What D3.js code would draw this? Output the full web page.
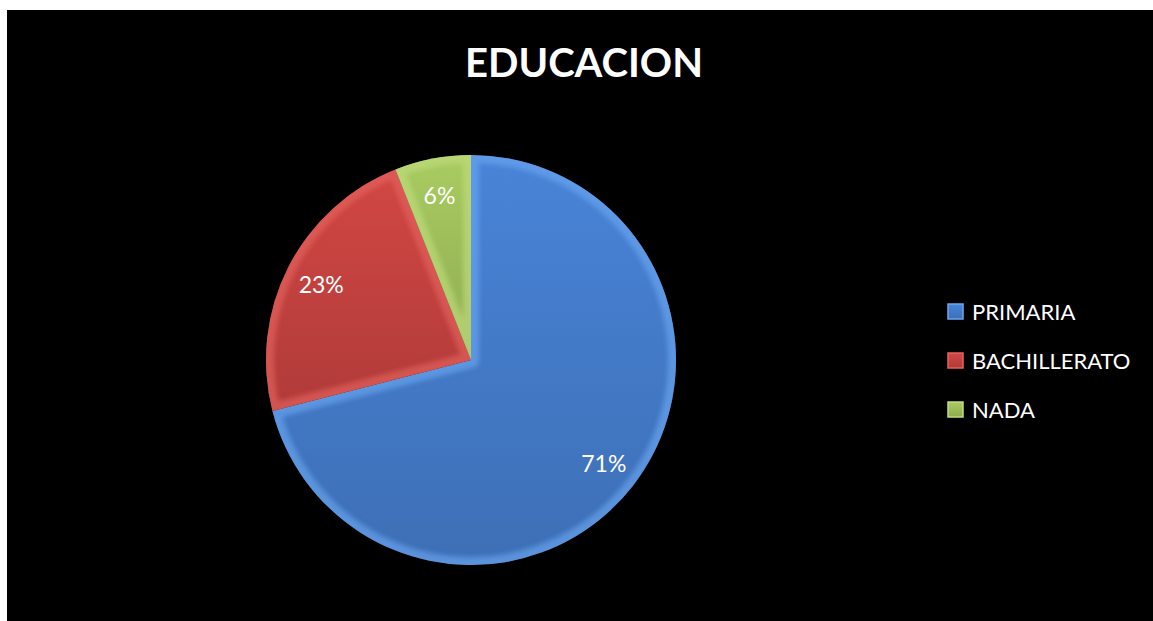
<!doctype html>
<html lang="es">
<head>
  <meta charset="utf-8">
  <title>EDUCACION</title>
  <script src="https://cdn.jsdelivr.net/npm/d3@7/dist/d3.min.js"></script>
  <style>
    html, body { margin: 0; padding: 0; background: #fff; }
    svg { display: block; }
    text { font-family: Lato, "Open Sans", sans-serif; fill: #fff; }
  </style>
</head>
<body>
<svg id="chart" width="1153" height="621"></svg>
<script>
  // datos
  var categorias = ["PRIMARIA", "BACHILLERATO", "NADA"];
  var valores = [71, 23, 6];
  var etiquetas = ["71%", "23%", "6%"];
  var colores = ["#4379c6", "#c0413e", "#9bbb59"];
  var claros = ["#6aa6f0", "#e4635f", "#c0dc7e"];

  var svg = d3.select("#chart");
  var W = 1153, H = 621;

  // fondo negro del grafico
  svg.append("rect").attr("x", 7).attr("y", 10).attr("width", W - 7).attr("height", H - 10).attr("fill", "#000");

  svg.append("text")
    .attr("x", 584).attr("y", 77)
    .attr("text-anchor", "middle")
    .style("font-size", "40px").style("font-weight", "bold")
    .text("EDUCACION");

  var cx = 471, cy = 360, r = 205;
  var defs = svg.append("defs");
  defs.append("filter").attr("id", "blur").append("feGaussianBlur").attr("stdDeviation", 2.5);

  var pie = d3.pie().sort(null).value(function(d) { return d; });
  var arc = d3.arc().innerRadius(0).outerRadius(r);
  var labelArc = d3.arc().innerRadius(r * 0.82).outerRadius(r * 0.82);
  var arcs = pie(valores);

  // gradientes
  colores.forEach(function(c, i) {
    var g = defs.append("linearGradient").attr("id", "grad" + i)
      .attr("x1", 0).attr("y1", 0).attr("x2", 0).attr("y2", 1);
    g.append("stop").attr("offset", "0%").attr("stop-color", d3.color(c).brighter(0.25));
    g.append("stop").attr("offset", "100%").attr("stop-color", d3.color(c).darker(0.25));
    defs.append("clipPath").attr("id", "clip" + i)
      .append("path").attr("d", arc(arcs[i]));
  });

  var g = svg.append("g").attr("transform", "translate(" + cx + "," + cy + ")");

  var slices = g.selectAll(".slice").data(arcs).enter().append("g").attr("class", "slice");
  slices.append("path")
    .attr("d", arc)
    .attr("fill", function(d, i) { return "url(#grad" + i + ")"; });
  // bisel claro
  slices.append("path")
    .attr("d", arc)
    .attr("clip-path", function(d, i) { return "url(#clip" + i + ")"; })
    .attr("fill", "none")
    .attr("stroke", function(d, i) { return claros[i]; })
    .attr("stroke-width", 16)
    .attr("stroke-linejoin", "round")
    .attr("opacity", 0.65)
    .attr("filter", "url(#blur)");

  g.selectAll(".lbl").data(arcs).enter().append("text")
    .attr("class", "lbl")
    .attr("transform", function(d) { return "translate(" + labelArc.centroid(d) + ")"; })
    .attr("text-anchor", "middle")
    .attr("dy", "0.4em")
    .style("font-size", "23px")
    .text(function(d, i) { return etiquetas[i]; });

  // leyenda
  var ley = svg.append("g").attr("transform", "translate(948,304)");
  var item = ley.selectAll("g").data(categorias).enter().append("g")
    .attr("transform", function(d, i) { return "translate(0," + i * 49 + ")"; });
  item.append("rect")
    .attr("width", 15).attr("height", 15)
    .attr("fill", function(d, i) { return "url(#grad" + i + ")"; })
    .attr("stroke", function(d, i) { return claros[i]; }).attr("stroke-width", 1.5);
  item.append("text")
    .attr("x", 24).attr("y", 8).attr("dy", "0.36em")
    .style("font-size", "22px")
    .text(function(d) { return d; });
</script>
</body>
</html>
